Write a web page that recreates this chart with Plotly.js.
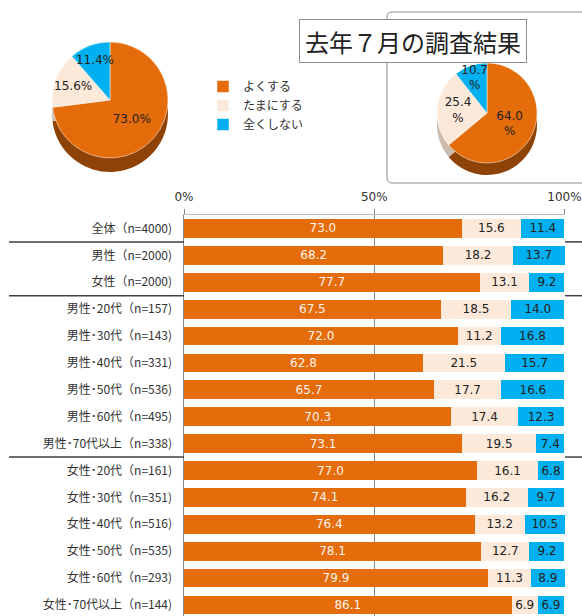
<!DOCTYPE html>
<html><head><meta charset="utf-8">
<script src="https://cdn.plot.ly/plotly-3.0.1.min.js"></script>
<style>html,body{margin:0;padding:0;background:#fff}#chart{width:582px;height:616px}</style>
</head><body><div id="chart"></div>
<script>
// ---- data ----
const answerLabels = ['よくする', 'たまにする', '全くしない'];
const pieNow = [73.0, 15.6, 11.4];
const pieLastYear = [64.0, 25.4, 10.7];
const pieTitle = '去年７月の調査結果';
const categories = ['全体（n=4000)', '男性（n=2000)', '女性（n=2000)',
  '男性･20代（n=157)', '男性･30代（n=143)', '男性･40代（n=331)', '男性･50代（n=536)', '男性･60代（n=495)', '男性･70代以上（n=338)',
  '女性･20代（n=161)', '女性･30代（n=351)', '女性･40代（n=516)', '女性･50代（n=535)', '女性･60代（n=293)', '女性･70代以上（n=144)'];
const often = [73.0, 68.2, 77.7, 67.5, 72.0, 62.8, 65.7, 70.3, 73.1, 77.0, 74.1, 76.4, 78.1, 79.9, 86.1];
const sometimes = [15.6, 18.2, 13.1, 18.5, 11.2, 21.5, 17.7, 17.4, 19.5, 16.1, 16.2, 13.2, 12.7, 11.3, 6.9];
const never = [11.4, 13.7, 9.2, 14.0, 16.8, 15.7, 16.6, 12.3, 7.4, 6.8, 9.7, 10.5, 9.2, 8.9, 6.9];
const xTickVals = [0, 50, 100];
const xTickText = ['0%', '50%', '100%'];
const groupBreaks = [0.5, 2.5, 8.5];

// ---- style ----
const W = 582, H = 616;
const px = v => v / W, py = v => 1 - v / H;
const colors = ['#E46C0A', '#FDE9D9', '#00B0F0'];
const sideColors = ['#8E4206', '#CDBBAE', '#0079A8'];
const jp = '"Noto Sans CJK JP", "Noto Sans", sans-serif';
const num = '"DejaVu Sans", Verdana, sans-serif';

function pieDom(cx, cy, r, dy) {
  return {x: [px(cx - r), px(cx + r)], y: [py(cy + r + dy), py(cy - r + dy)]};
}
const pieCommon = {type: 'pie', labels: answerLabels, sort: false, direction: 'clockwise', rotation: 0,
  hoverinfo: 'skip'};

const traces = [];
// left pie (depth + top)
traces.push(Object.assign({}, pieCommon, {values: pieNow, domain: pieDom(110, 100, 58, 14),
  marker: {colors: sideColors, line: {width: 0}}, textinfo: 'none', showlegend: false}));
traces.push(Object.assign({}, pieCommon, {values: pieNow, domain: pieDom(110, 100, 58, 0),
  marker: {colors: colors, line: {color: '#fff', width: 0.5}},
  texttemplate: '%{value:.1f}%', textposition: 'inside', insidetextorientation: 'horizontal',
  insidetextfont: {family: num, size: 11, color: '#222'}, showlegend: true}));
// right pie (depth + top)
traces.push(Object.assign({}, pieCommon, {values: pieLastYear, domain: pieDom(487, 113, 50, 12),
  marker: {colors: sideColors, line: {width: 0}}, textinfo: 'none', showlegend: false}));
traces.push(Object.assign({}, pieCommon, {values: pieLastYear, domain: pieDom(487, 113, 50, 0),
  marker: {colors: colors, line: {color: '#fff', width: 0.5}},
  texttemplate: '%{value:.1f}<br>%', textposition: 'inside', insidetextorientation: 'horizontal',
  insidetextfont: {family: num, size: 11, color: '#222'}, showlegend: false}));

// stacked bars
const series = [often, sometimes, never];
const textColors = ['#FFF4EC', '#222', '#222'];
series.forEach((vals, i) => {
  traces.push({type: 'bar', orientation: 'h', x: vals, y: categories, name: answerLabels[i],
    marker: {color: colors[i], line: {width: 0}}, showlegend: false,
    texttemplate: '%{x:.1f}', textposition: 'inside', insidetextanchor: 'middle',
    textfont: {family: num, size: 12, color: textColors[i]}, hoverinfo: 'skip', cliponaxis: false});
});

const shapes = [];
groupBreaks.forEach(b => {
  shapes.push({type: 'line', xref: 'paper', yref: 'y', x0: px(9), x1: px(184), y0: b, y1: b,
    line: {color: '#404040', width: 1.5}});
  shapes.push({type: 'line', xref: 'paper', yref: 'y', x0: px(565), x1: 1, y0: b, y1: b,
    line: {color: '#404040', width: 1.5}});
});
// rounded frame around last-year pie
const fx0 = px(387), fx1 = px(600), fy0 = py(12), fy1 = py(183), rx = px(5), ry = 5 / H;
shapes.push({type: 'path', xref: 'paper', yref: 'paper', layer: 'below',
  path: `M ${fx0 + rx} ${fy0} L ${fx1} ${fy0} L ${fx1} ${fy1} L ${fx0 + rx} ${fy1} Q ${fx0} ${fy1} ${fx0} ${fy1 + ry} L ${fx0} ${fy0 - ry} Q ${fx0} ${fy0} ${fx0 + rx} ${fy0} Z`,
  line: {color: '#8C8C8C', width: 1}});

const layout = {
  width: W, height: H, margin: {l: 0, r: 0, t: 0, b: 0},
  paper_bgcolor: '#fff', plot_bgcolor: 'rgba(0,0,0,0)',
  barmode: 'stack', bargap: 0.3,
  uniformtext: {mode: 'show', minsize: 12},
  font: {family: jp, color: '#333'},
  xaxis: {domain: [px(184), px(565)], range: [0, 100.15], side: 'top', tickvals: xTickVals, ticktext: xTickText,
    tickfont: {family: num, size: 12, color: '#333'}, ticks: 'outside', ticklen: 5, tickcolor: '#888',
    showgrid: true, gridcolor: '#888', gridwidth: 1, showline: true, linecolor: '#BBB', linewidth: 1,
    zeroline: false, fixedrange: true, ticklabelstandoff: 3, ticklabeloverflow: 'allow'},
  yaxis: {domain: [0, py(215)], type: 'category', range: [14.41, -0.5], tickfont: {family: jp, size: 12, color: '#333'},
    ticks: '', ticklabelstandoff: 8, showline: true, linecolor: '#888', linewidth: 1.5, showgrid: false, fixedrange: true},
  showlegend: true,
  legend: {x: px(203), y: py(72), xanchor: 'left', yanchor: 'top', traceorder: 'normal',
    font: {family: jp, size: 12, color: '#333'}, bgcolor: 'rgba(0,0,0,0)', itemclick: false},
  shapes: shapes,
  annotations: [{xref: 'paper', yref: 'paper', x: px(413), y: py(41), xanchor: 'center', yanchor: 'middle',
    text: pieTitle, showarrow: false, font: {family: jp, size: 24, color: '#222'},
    bgcolor: '#fff', bordercolor: '#8C8C8C', borderwidth: 1, width: 224, height: 40, borderpad: 1}]
};

Plotly.newPlot('chart', traces, layout, {staticPlot: true, displayModeBar: false});
</script></body></html>
